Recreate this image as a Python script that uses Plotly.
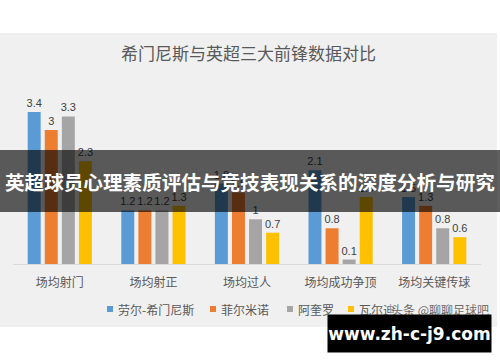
import plotly.graph_objects as go

categories = ["场均射门", "场均射正", "场均过人", "场均成功争顶", "场均关键传球"]
series_names = ["劳尔-希门尼斯", "菲尔米诺", "阿奎罗", "瓦尔迪"]
jimenez = [3.4, 1.2, 1.8, 2.1, 1.5]
firmino = [3.0, 1.2, 1.6, 0.8, 1.3]
aguero = [3.3, 1.2, 1.0, 0.1, 0.8]
vardy = [2.3, 1.3, 0.7, 1.5, 0.6]
colors = ["#5B9BD5", "#ED7D31", "#A5A5A5", "#FFC000"]

title_text = "希门尼斯与英超三大前锋数据对比"
banner_text = "英超球员心理素质评估与竞技表现关系的深度分析与研究"
watermark_text = "www.zh-c-j9.com"
source_text = "头条 @聊聊足球吧"

W, H = 500, 362
L, R, T, B = 13, 19, 104, 98
PW = W - L - R
PH = H - T - B
BASE = H - B


def px(x):
    return (x - L) / PW


def py(y):
    return (BASE - y) / PH


fig = go.Figure()
for name, vals, c in zip(series_names, [jimenez, firmino, aguero, vardy], colors):
    fig.add_trace(go.Bar(
        x=categories, y=vals, name=name, marker_color=c, marker_line_width=0,
        text=[("%g" % v) for v in vals], textposition="outside",
        textfont=dict(family="Liberation Sans", size=11, color="#404040"),
        constraintext="none", cliponaxis=False, showlegend=False, hoverinfo="skip",
    ))

shapes = [
    dict(type="rect", xref="paper", yref="paper", x0=px(0), x1=px(497), y0=py(33), y1=py(327),
         fillcolor="#F0F0F0", line_width=0, layer="below"),
]

annotations = [
    dict(text=title_text, xref="paper", yref="paper", x=px(248), y=py(52), showarrow=False,
         font=dict(family="Noto Sans CJK SC", size=17, color="#595959"), xanchor="center", yanchor="middle"),
]

# manual legend (squares + labels), positioned like the reference
legend_sq_x = [110, 213, 290, 351]
legend_y = 309
for name, c, sx in zip(series_names, colors, legend_sq_x):
    shapes.append(dict(type="rect", xref="paper", yref="paper", x0=px(sx - 3), x1=px(sx + 3),
                       y0=py(legend_y + 3), y1=py(legend_y - 3), fillcolor=c, line_width=0, layer="above"))
    annotations.append(dict(text=name, xref="paper", yref="paper", x=px(sx + 6), y=py(legend_y),
                            showarrow=False, xanchor="left", yanchor="middle",
                            font=dict(family="Noto Sans CJK SC", size=12, color="#595959")))

annotations.append(dict(text=source_text, xref="paper", yref="paper", x=px(440), y=py(309), showarrow=False,
                        font=dict(family="Noto Sans CJK SC", size=12, color="rgba(70,70,70,0.8)"),
                        xanchor="center", yanchor="middle", bgcolor="rgba(240,240,240,0.35)"))

# overlays: banner and watermark box
shapes += [
    dict(type="rect", xref="paper", yref="paper", x0=px(0), x1=px(500), y0=py(150), y1=py(212),
         fillcolor="rgba(0,0,0,0.63)", line_width=0, layer="above"),
]
annotations += [
    dict(text="<b>" + banner_text + "</b>", xref="paper", yref="paper", x=px(250), y=py(181), showarrow=False,
         font=dict(family="Noto Sans CJK SC", size=19.6, color="#FFFFFF"), xanchor="center", yanchor="middle"),
    dict(text="<b>" + watermark_text + "</b>", xref="paper", yref="paper", x=px(409.5), y=py(333.5),
         showarrow=False, bgcolor="#000000", width=163, height=37, borderpad=0,
         font=dict(family="DejaVu Sans", size=17, color="#FFFFFF"), xanchor="center", yanchor="middle"),
]

fig.update_layout(
    width=W, height=H,
    margin=dict(l=L, r=R, t=T, b=B, pad=0, autoexpand=False),
    paper_bgcolor="#FFFFFF", plot_bgcolor="rgba(0,0,0,0)",
    barmode="group", bargap=0.27, bargroupgap=0.24,
    showlegend=False,
    xaxis=dict(showline=True, linecolor="#D9D9D9", linewidth=1, ticks="", showgrid=False,
               tickfont=dict(family="Noto Sans CJK SC", size=12, color="#595959"),
               ticklabelstandoff=8, fixedrange=True),
    yaxis=dict(range=[0, PH / 44.7], visible=False, showgrid=False, zeroline=False, fixedrange=True),
    shapes=shapes, annotations=annotations,
)

fig.write_html("out.html", config={"displayModeBar": False},
               post_script="document.body.style.margin='0';document.body.style.overflow='hidden';")
